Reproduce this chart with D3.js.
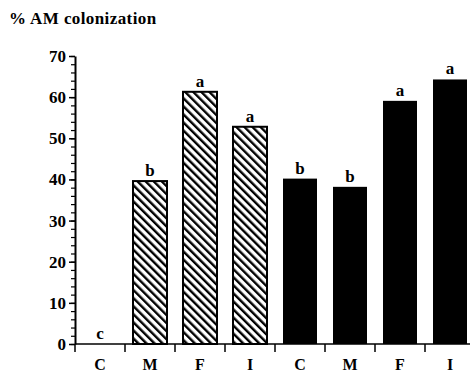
<!DOCTYPE html>
<html>
<head>
<meta charset="utf-8">
<script src="https://cdn.jsdelivr.net/npm/d3@7"></script>
<style>
  body { margin: 0; background: #fff; }
</style>
</head>
<body>
<div id="chart"></div>
<script>
const categories = ["C", "M", "F", "I", "C", "M", "F", "I"];
const values = [0, 39.6, 61.3, 52.8, 40.2, 38.2, 59.1, 64.3];
const letters = ["c", "b", "a", "a", "b", "b", "a", "a"];
const fills = ["hatch", "hatch", "hatch", "hatch", "solid", "solid", "solid", "solid"];
const yTicks = [0, 10, 20, 30, 40, 50, 60, 70];

const serif = "'Liberation Serif', 'Times New Roman', 'DejaVu Serif', serif";
const w = 474, h = 373;
const margin = { top: 56, right: 0, bottom: 29, left: 75 };
const width = 400;
const height = h - margin.top - margin.bottom;

const svg = d3.select("#chart").append("svg")
  .attr("width", w).attr("height", h);

const defs = svg.append("defs");
const pat = defs.append("pattern")
  .attr("id", "hatch")
  .attr("patternUnits", "userSpaceOnUse")
  .attr("width", 5.7).attr("height", 5.7)
  .attr("patternTransform", "rotate(-45)");
pat.append("rect").attr("width", 5.7).attr("height", 5.7).attr("fill", "#fff");
pat.append("rect").attr("x", 0).attr("width", 2.4).attr("height", 5.7).attr("fill", "#000");

svg.append("text")
  .attr("x", 9).attr("y", 24)
  .attr("font-family", serif)
  .attr("font-weight", "bold")
  .attr("font-size", 17)
  .style("letter-spacing", "0.4px")
  .text("% AM colonization");

const g = svg.append("g").attr("transform", `translate(${margin.left},${margin.top})`);

const x = d3.scaleBand()
  .domain(d3.range(categories.length))
  .range([0, width])
  .paddingInner(0.32)
  .paddingOuter(0.16);

const y = d3.scaleLinear().domain([0, 70]).range([height, 0]);

// bars
g.selectAll("rect.bar")
  .data(values)
  .enter().append("rect")
  .attr("class", "bar")
  .attr("x", (d, i) => x(i))
  .attr("y", d => y(d))
  .attr("width", x.bandwidth())
  .attr("height", d => height - y(d))
  .attr("fill", (d, i) => fills[i] === "hatch" ? "url(#hatch)" : "#000")
  .attr("stroke", "#000")
  .attr("stroke-width", (d, i) => fills[i] === "hatch" ? 2 : 0)
  .style("display", d => d > 0 ? null : "none");

// letters above bars
g.selectAll("text.sig")
  .data(values)
  .enter().append("text")
  .attr("class", "sig")
  .attr("x", (d, i) => x(i) + x.bandwidth() / 2)
  .attr("y", d => y(d) - 5)
  .attr("text-anchor", "middle")
  .attr("font-family", serif)
  .attr("font-weight", "bold")
  .attr("font-size", 17)
  .text((d, i) => letters[i]);

// y axis with minor ticks
const yMinor = g.append("g").attr("class", "y-minor")
  .call(d3.axisLeft(y).ticks(35).tickSize(4).tickFormat(""));
yMinor.select(".domain").remove();
yMinor.selectAll("line").attr("stroke", "#000").attr("stroke-width", 1.2);

const yAxis = g.append("g")
  .call(d3.axisLeft(y).tickValues(yTicks).tickSize(6).tickPadding(3).tickSizeOuter(0));
yAxis.attr("font-family", serif)
  .attr("font-weight", "bold")
  .attr("font-size", 17);
yAxis.select(".domain").attr("stroke", "#000").attr("stroke-width", 2);
yAxis.selectAll(".tick line").attr("stroke", "#000").attr("stroke-width", 1.5);
yAxis.selectAll(".tick text").attr("fill", "#000");

// x axis with ticks at band edges
const xAxisG = g.append("g").attr("transform", `translate(0,${height})`);
xAxisG.append("line")
  .attr("x1", 0).attr("x2", width - 5)
  .attr("stroke", "#000").attr("stroke-width", 1.5);
xAxisG.selectAll("line.xt")
  .data(d3.range(categories.length))
  .enter().append("line")
  .attr("class", "xt")
  .attr("x1", i => x(i) - x.step() * x.paddingInner() / 2)
  .attr("x2", i => x(i) - x.step() * x.paddingInner() / 2)
  .attr("y1", 0).attr("y2", 8)
  .attr("stroke", "#000").attr("stroke-width", 1.5);
xAxisG.selectAll("text.xl")
  .data(categories)
  .enter().append("text")
  .attr("class", "xl")
  .attr("x", (d, i) => x(i) + x.bandwidth() / 2)
  .attr("y", 26)
  .attr("text-anchor", "middle")
  .attr("font-family", serif)
  .attr("font-weight", "bold")
  .attr("font-size", 16)
  .text(d => d);
</script>
</body>
</html>
